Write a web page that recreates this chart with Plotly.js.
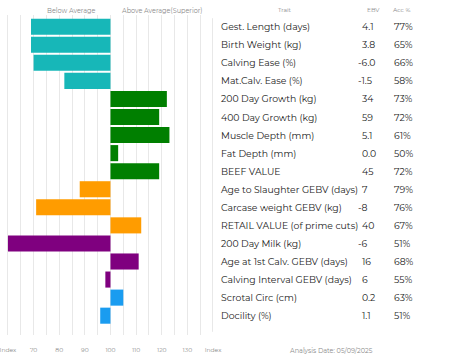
<!DOCTYPE html>
<html><head><meta charset="utf-8">
<script src="https://cdn.plot.ly/plotly-3.0.1.min.js"></script>
<style>html,body{margin:0;padding:0;background:#fff;}#chart{width:453px;height:362px;}</style>
</head><body><div id="chart"></div>
<script>
const traits = ["Gest. Length (days)","Birth Weight (kg)","Calving Ease (%)","Mat.Calv. Ease (%)","200 Day Growth (kg)","400 Day Growth (kg)","Muscle Depth (mm)","Fat Depth (mm)","BEEF VALUE","Age to Slaughter GEBV (days)","Carcase weight GEBV (kg)","RETAIL VALUE (of prime cuts)","200 Day Milk (kg)","Age at 1st Calv. GEBV (days)","Calving Interval GEBV (days)","Scrotal Circ (cm)","Docility (%)"];
const ebv = ["4.1","3.8","-6.0","-1.5","34","59","5.1","0.0","45","7","-8","40","-6","16","6","0.2","1.1"];
const acc = ["77%","65%","66%","58%","73%","72%","61%","50%","72%","79%","76%","67%","51%","68%","55%","63%","51%"];
const indexValues = [69,69,70,82,122,119,123,103,119,88,71,112,60,111,98,105,96];
const groups = ["calving","calving","calving","calving","growth","growth","growth","growth","growth","carcase","carcase","carcase","maternal","maternal","maternal","other","other"];
const groupColors = {calving:"#17b7b8",growth:"#007f00",carcase:"#ff9c00",maternal:"#7f007f",other:"#1a9cf0"};
const tickValues = [60,65,70,75,80,85,90,95,100,105,110,115,120,125,130,135,140];
const tickLabels = ["Index","","70","","80","","90","","100","","110","","120","","130","","Index"];
const headerLeft = "Below Average", headerRight = "Above Average(Superior)";
const colHeaders = ["Trait","EBV","Acc %"];
const analysisDate = "Analysis Date: 05/09/2025";

const W=453,H=362,L=0,R=240,T=15,B=27;
const pw=W-L-R, ph=H-T-B;
const px=x=>(x-L)/pw;           // pixel x -> paper
const py=y=>(H-B-y)/ph;         // pixel y -> paper
const font="Montserrat, 'Open Sans', sans-serif";

const idx = traits.map((_,i)=>i);
const trace = {
  type:"bar", orientation:"h", y:idx, x:indexValues.map(v=>v-100), base:100,
  marker:{color:groups.map(g=>groupColors[g]), line:{width:0}},
  hoverinfo:"skip", showlegend:false
};
const ann=[];
const small={family:font,size:6.5,color:"#8a8a8a"};
ann.push({xref:"paper",yref:"paper",x:px(71),y:py(11),text:headerLeft,showarrow:false,font:small,xanchor:"center",yanchor:"middle"});
ann.push({xref:"paper",yref:"paper",x:px(162),y:py(11),text:headerRight,showarrow:false,font:small,xanchor:"center",yanchor:"middle"});
ann.push({xref:"paper",yref:"paper",x:px(285),y:py(10),text:colHeaders[0],showarrow:false,font:{family:font,size:6,color:"#8a8a8a"},xanchor:"center",yanchor:"middle"});
ann.push({xref:"paper",yref:"paper",x:px(373),y:py(10),text:colHeaders[1],showarrow:false,font:{family:font,size:6,color:"#8a8a8a"},xanchor:"center",yanchor:"middle"});
ann.push({xref:"paper",yref:"paper",x:px(402),y:py(10),text:colHeaders[2],showarrow:false,font:{family:font,size:6,color:"#8a8a8a"},xanchor:"center",yanchor:"middle"});
ann.push({xref:"paper",yref:"paper",x:px(288),y:py(351),text:analysisDate,showarrow:false,font:small,xanchor:"left",yanchor:"middle"});
traits.forEach((t,i)=>{
  const tf={family:font,size:9.3,color:"#222"};
  ann.push({xref:"paper",yref:"y",x:px(219),y:i,text:t,showarrow:false,font:tf,xanchor:"left",yanchor:"middle"});
  ann.push({xref:"paper",yref:"y",x:px(ebv[i].startsWith("-")?356:360),y:i,text:ebv[i],showarrow:false,font:tf,xanchor:"left",yanchor:"middle"});
  ann.push({xref:"paper",yref:"y",x:px(392),y:i,text:acc[i],showarrow:false,font:tf,xanchor:"left",yanchor:"middle"});
});
const layout={
  width:W,height:H,margin:{l:L,r:R,t:T,b:B},paper_bgcolor:"#fff",plot_bgcolor:"#fff",
  bargap:0.11,
  xaxis:{range:[56.9,140],tickmode:"array",tickvals:tickValues,ticktext:tickLabels,showgrid:true,gridcolor:"#e8e8e8",gridwidth:1,zeroline:false,showline:false,ticks:"",ticklabelstandoff:10,ticklabeloverflow:"allow",tickfont:{family:font,size:6,color:"#8a8a8a"},fixedrange:true},
  yaxis:{range:[17.07,-0.648],showticklabels:false,showgrid:false,zeroline:false,showline:false,ticks:"",fixedrange:true},
  shapes:[{type:"line",xref:"x",yref:"paper",x0:140,x1:140,y0:0.01,y1:0.99,line:{color:"#d0d0d0",width:1}}],
  annotations:ann
};
Plotly.newPlot("chart",[trace],layout,{displayModeBar:false,staticPlot:true});
</script></body></html>
